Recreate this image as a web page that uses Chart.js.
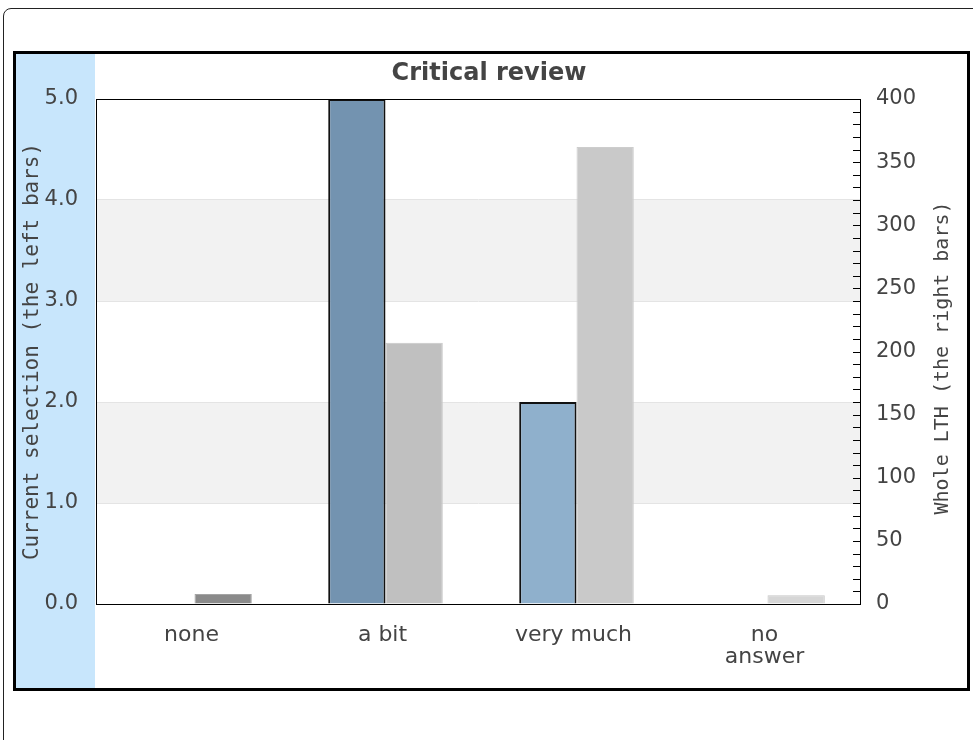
<!DOCTYPE html>
<html>
<head>
<meta charset="utf-8">
<script src="https://cdn.jsdelivr.net/npm/chart.js@4"></script>
<style>
  body { margin: 0; background: #fff; }
  #wrap { position: relative; width: 973px; height: 740px; overflow: hidden; }
  .outer { position: absolute; left: 3px; top: 8px; width: 990px; height: 760px; border: 1px solid #222; border-radius: 8px; }
  .frame { position: absolute; left: 13px; top: 51px; width: 951px; height: 634px; border: 3px solid #000; }
  .strip { position: absolute; left: 16px; top: 54px; width: 79px; height: 634px; background: #c8e6fc; }
  canvas { position: absolute; left: 0; top: 0; }
</style>
</head>
<body>
<div id="wrap">
  <div class="outer"></div>
  <div class="frame"></div>
  <div class="strip"></div>
  <canvas id="c" width="973" height="740"></canvas>
</div>
<script>
// data
const categories = ['none', 'a bit', 'very much', ['no', 'answer']];
const selectionValues = [0, 5, 2, 0];     // left axis
const lthValues = [8, 207, 362, 7];       // right axis
const titleText = 'Critical review';
const leftTitle = 'Current selection (the left bars)';
const rightTitle = 'Whole LTH (the right bars)';

// styles
const selColors = ['#7393b0', '#7393b0', '#8fb0cc', '#8fb0cc'];
const lthColors = ['#8a8a8a', '#c0c0c0', '#c9c9c9', '#d6d6d6'];
const lthBorders = ['#a4a4a4', '#c8c8c8', '#cdcdcd', '#c6c6c6'];
const textColor = '#444';
const barShift = 3; // bars sit a few px right of the category centre in the original

// bands, frame, inner ticks of the right axis, titles
const decor = {
  id: 'decor',
  beforeDraw(chart) {
    const { ctx, chartArea: a, scales: { y } } = chart;
    ctx.save();
    ctx.fillStyle = '#f2f2f2';
    y.ticks.forEach((t, i) => {
      const next = y.ticks[i + 1];
      if (i % 2 === 1 && next) {
        const top = y.getPixelForValue(next.value);
        const bot = y.getPixelForValue(t.value);
        ctx.fillRect(a.left, top, a.right - a.left, bot - top);
      }
    });
    ctx.restore();
  },
  beforeDatasetsDraw(chart) {
    chart.ctx.save();
    chart.ctx.translate(barShift, 0);
  },
  afterDatasetsDraw(chart) {
    chart.ctx.restore();
  },
  afterDraw(chart) {
    const { ctx, chartArea: a, scales: { y1 } } = chart;
    ctx.save();
    ctx.strokeStyle = '#000';
    ctx.lineWidth = 1;
    ctx.strokeRect(Math.round(a.left) + 0.5, Math.round(a.top) + 0.5,
      Math.round(a.right - a.left), Math.round(a.bottom - a.top));

    ctx.beginPath();
    y1.ticks.forEach(t => {
      const py = Math.round(y1.getPixelForValue(t.value)) + 0.5;
      ctx.moveTo(a.right - 7, py);
      ctx.lineTo(a.right, py);
    });
    ctx.stroke();

    ctx.fillStyle = textColor;
    ctx.font = 'bold 24px "DejaVu Sans"';
    ctx.textAlign = 'center';
    ctx.textBaseline = 'alphabetic';
    ctx.fillText(titleText, 489, 80);

    ctx.translate(943, 358);
    ctx.rotate(-Math.PI / 2);
    ctx.font = '20px "DejaVu Sans Mono"';
    ctx.textBaseline = 'middle';
    ctx.fillText(rightTitle, 0, 0);
    ctx.restore();
  }
};

new Chart(document.getElementById('c'), {
  type: 'bar',
  data: {
    labels: categories,
    datasets: [
      {
        label: 'Current selection',
        data: selectionValues,
        yAxisID: 'y',
        backgroundColor: selColors,
        borderColor: '#111',
        borderWidth: 2
      },
      {
        label: 'Whole LTH',
        data: lthValues,
        yAxisID: 'y1',
        backgroundColor: lthColors,
        borderColor: lthBorders,
        borderWidth: 1
      }
    ]
  },
  options: {
    responsive: false,
    animation: false,
    devicePixelRatio: 1,
    categoryPercentage: 0.6,
    barPercentage: 1.0,
    layout: { padding: { top: 99, left: 0, right: 0, bottom: 0 } },
    plugins: { legend: { display: false }, tooltip: { enabled: false } },
    scales: {
      x: {
        grid: { display: false },
        border: { color: '#000', width: 1 },
        ticks: {
          color: textColor, font: { family: 'DejaVu Sans', size: 22, lineHeight: 1.0 },
          padding: 12, maxRotation: 0, autoSkip: false
        },
        afterFit(s) { s.height = 136; }
      },
      y: {
        position: 'left',
        min: 0, max: 5,
        ticks: {
          stepSize: 1, callback: v => v.toFixed(1),
          color: textColor, font: { family: 'DejaVu Sans', size: 21 }, padding: 18
        },
        grid: { color: '#e4e4e4', drawTicks: false },
        border: { color: '#000' },
        title: {
          display: true, text: leftTitle, color: textColor,
          font: { family: 'DejaVu Sans Mono', size: 21 }, padding: { top: 20, bottom: 0 }
        },
        afterFit(s) { s.width = 96; }
      },
      y1: {
        position: 'right',
        min: 0, max: 400,
        ticks: {
          stepSize: 10, autoSkip: false, callback: v => (v % 50 === 0 ? v : ''),
          color: textColor, font: { family: 'DejaVu Sans', size: 21 }, padding: 16
        },
        grid: { drawOnChartArea: false, drawTicks: false },
        border: { color: '#000' },
        afterFit(s) { s.width = 113; }
      }
    }
  },
  plugins: [decor]
});
</script>
</body>
</html>
